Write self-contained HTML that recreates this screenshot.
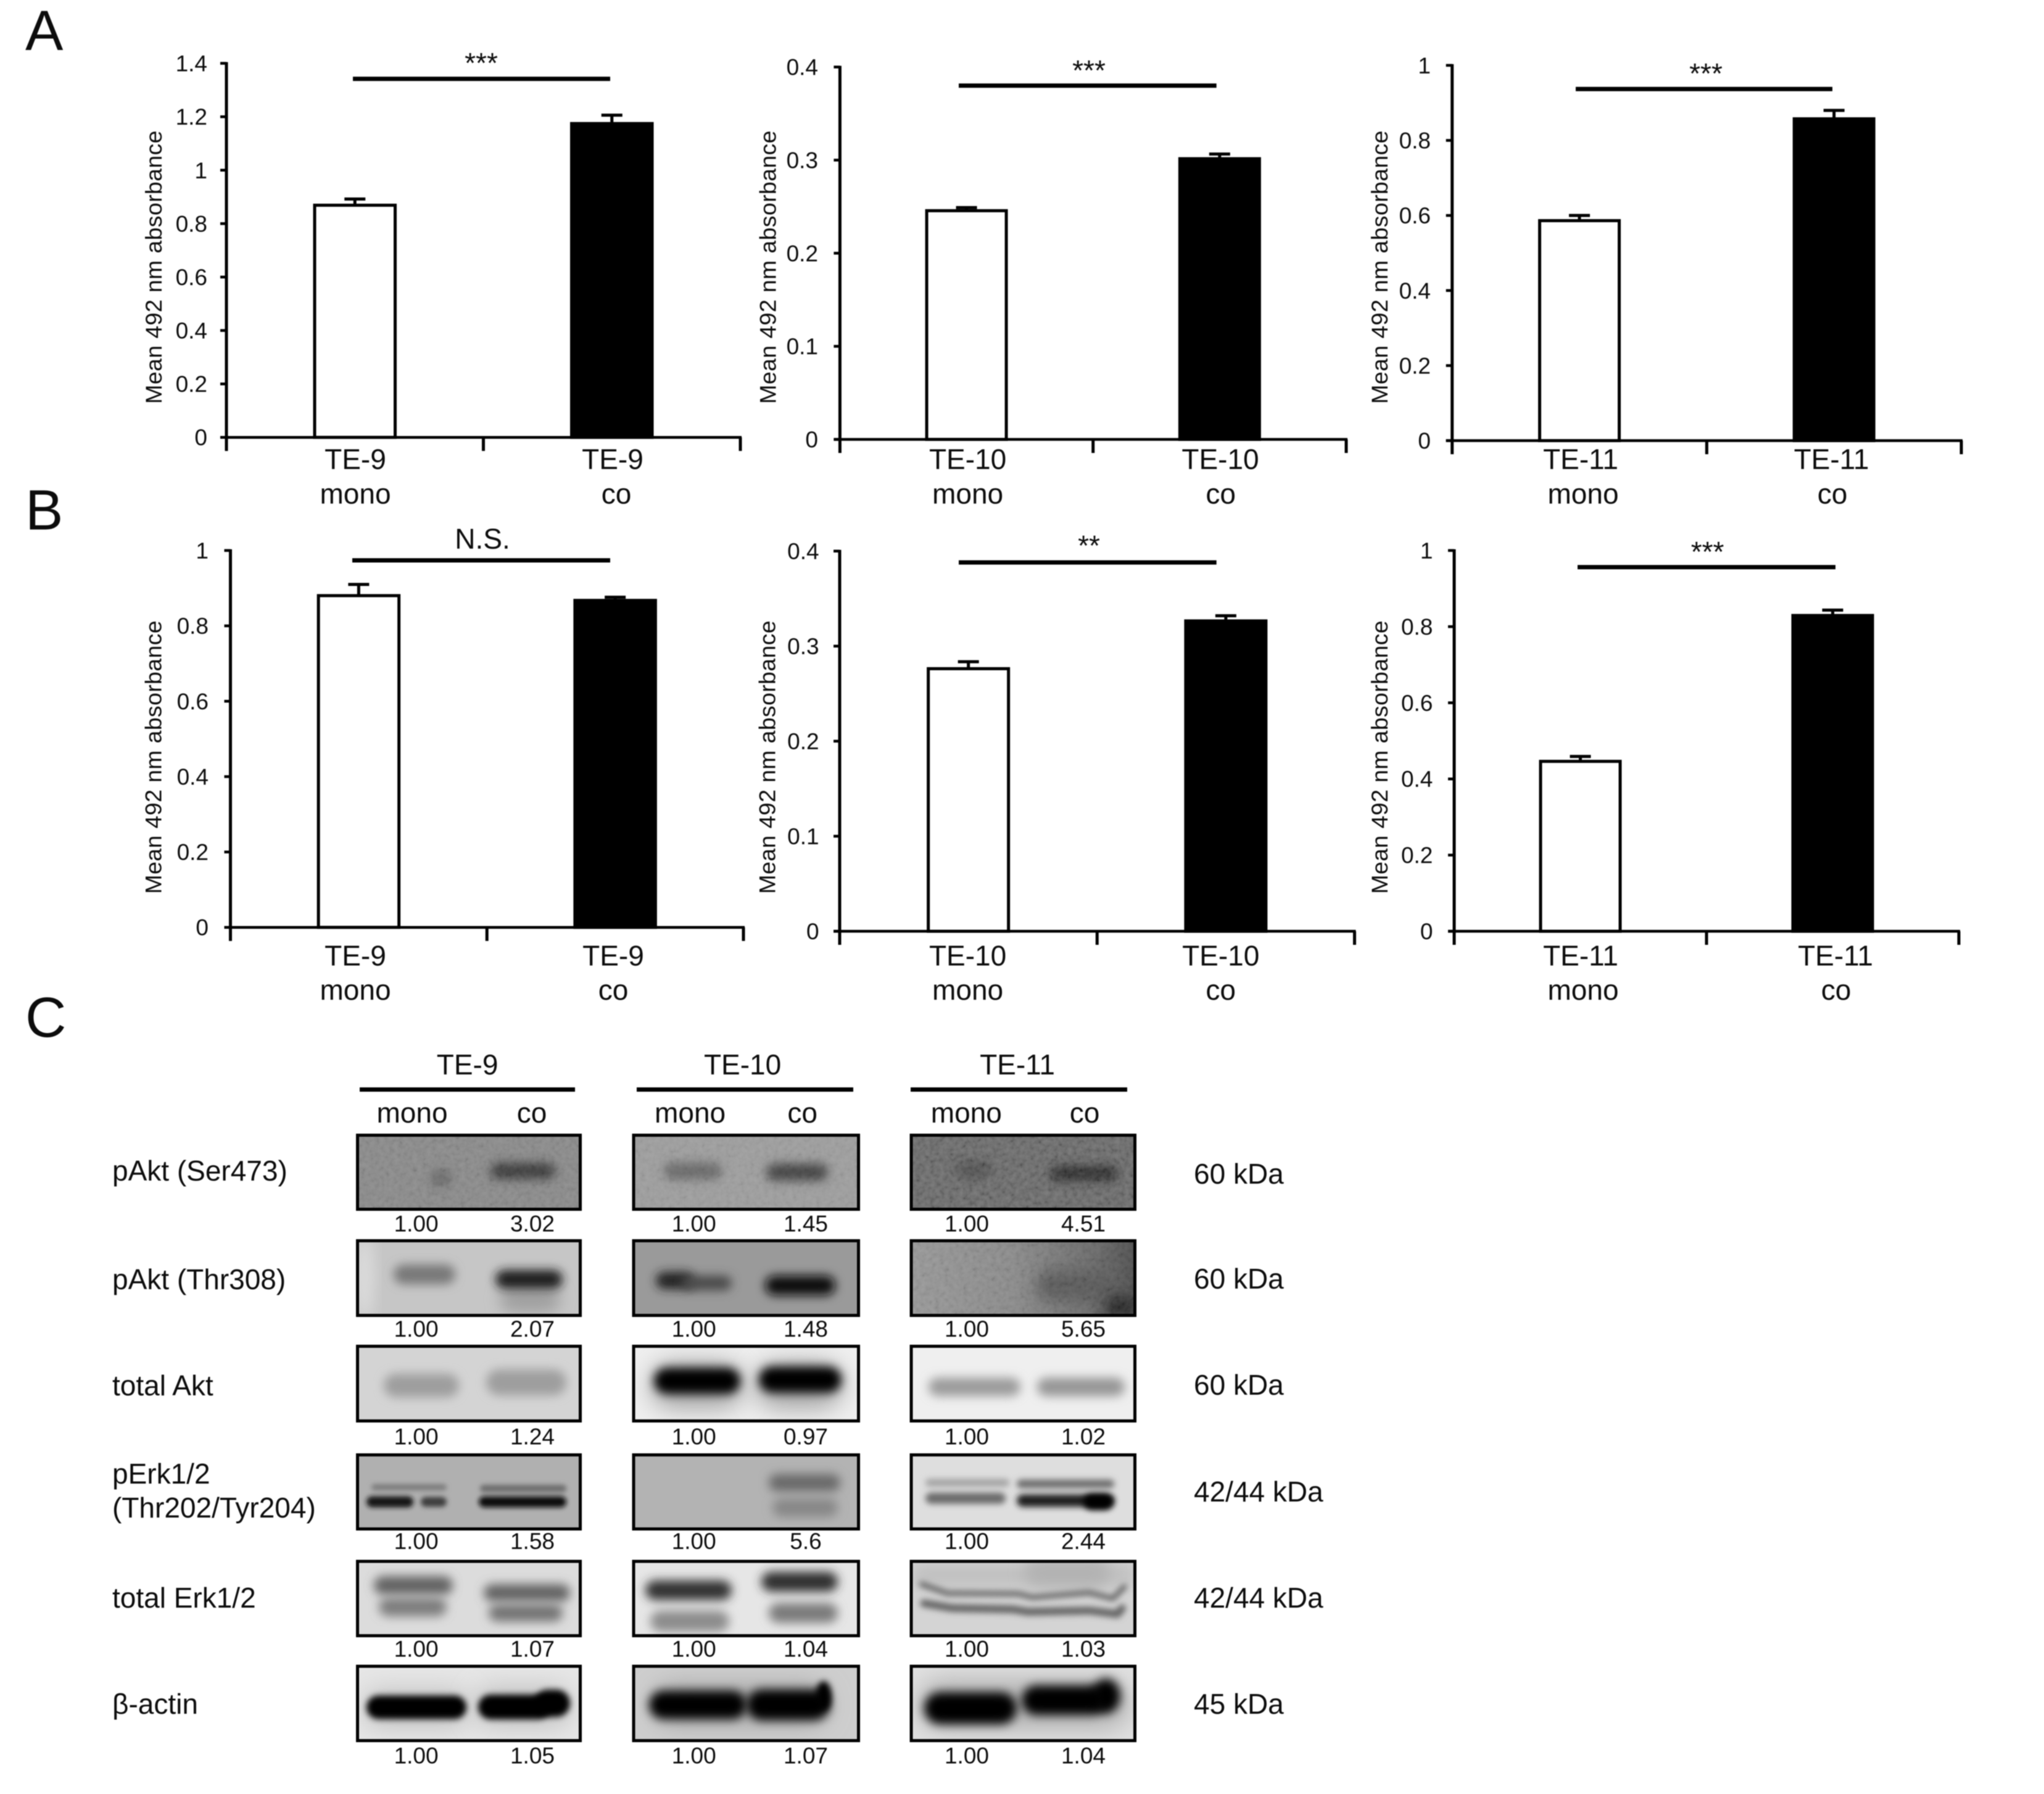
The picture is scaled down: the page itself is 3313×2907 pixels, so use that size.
<!DOCTYPE html>
<html lang="en">
<head>
<meta charset="utf-8">
<title>Absorbance bar charts and western blots</title>
<style>
html,body{margin:0;padding:0;background:#fff;width:3313px;height:2907px;overflow:hidden}
svg{display:block;filter:blur(0.7px)}
text{font-family:"Liberation Sans","Noto Sans CJK SC",sans-serif;fill:#0c0c0c}
</style>
</head>
<body>
<svg id="figure" xmlns="http://www.w3.org/2000/svg" width="3313" height="2907" viewBox="0 0 3313 2907">
  <defs>
    <filter id="blur2" x="-50%" y="-300%" width="200%" height="700%"><feGaussianBlur stdDeviation="4"/></filter>
    <filter id="blur4" x="-50%" y="-300%" width="200%" height="700%"><feGaussianBlur stdDeviation="5"/></filter>
    <filter id="blur7" x="-50%" y="-300%" width="200%" height="700%"><feGaussianBlur stdDeviation="8"/></filter>
    <filter id="blur12" x="-50%" y="-300%" width="200%" height="700%"><feGaussianBlur stdDeviation="12"/></filter>
    <filter id="blur20" x="-50%" y="-300%" width="200%" height="700%"><feGaussianBlur stdDeviation="20"/></filter>
    <filter id="noise" x="0" y="0" width="100%" height="100%">
      <feTurbulence type="fractalNoise" baseFrequency="0.13" numOctaves="2" seed="4"/>
      <feColorMatrix type="matrix" values="1.6 0 0 0 -0.3  1.6 0 0 0 -0.3  1.6 0 0 0 -0.3  0 0 0 0 1"/>
    </filter>
    <linearGradient id="grad-te11-r2" x1="0" y1="0" x2="1" y2="0">
      <stop offset="0" stop-color="#979797"/>
      <stop offset="0.45" stop-color="#8a8a8a"/>
      <stop offset="0.8" stop-color="#6a6a6a"/>
      <stop offset="1" stop-color="#4c4c4c"/>
    </linearGradient>
  </defs>

  <text x="41" y="81" font-size="92">A</text>
  <text x="41" y="858" font-size="92">B</text>
  <text x="41" y="1680" font-size="92">C</text>

  <g id="charts"></g>
  <g id="blots"></g>

  <g font-size="46" text-anchor="middle">
    <text x="757.6" y="1741">TE-9</text>
    <text x="1203.6" y="1741">TE-10</text>
    <text x="1649" y="1741">TE-11</text>
    <rect x="583" y="1762" width="349" height="7" fill="#000"/>
    <rect x="1032" y="1762" width="351" height="7" fill="#000"/>
    <rect x="1476" y="1762" width="351" height="7" fill="#000"/>
    <text x="668" y="1819">mono</text>
    <text x="862" y="1819">co</text>
    <text x="1118.6" y="1819">mono</text>
    <text x="1300.7" y="1819">co</text>
    <text x="1566.3" y="1819">mono</text>
    <text x="1758" y="1819">co</text>
  </g>

  <g font-size="46">
    <text x="182" y="1913">pAkt (Ser473)</text>
    <text x="182" y="2089">pAkt (Thr308)</text>
    <text x="182" y="2261">total Akt</text>
    <text x="182" y="2404">pErk1/2</text>
    <text x="182" y="2459">(Thr202/Tyr204)</text>
    <text x="182" y="2605">total Erk1/2</text>
    <text x="182" y="2777">β-actin</text>
  </g>

  <g font-size="46">
    <text x="1935" y="1918">60 kDa</text>
    <text x="1935" y="2088">60 kDa</text>
    <text x="1935" y="2260">60 kDa</text>
    <text x="1935" y="2433">42/44 kDa</text>
    <text x="1935" y="2605">42/44 kDa</text>
    <text x="1935" y="2777">45 kDa</text>
  </g>
</svg>

<script>
/* ---------- chart data ---------- */
const groupNames = ['mono', 'co'];
const cellLineA1 = 'TE-9';
const cellLineA2 = 'TE-10';
const cellLineA3 = 'TE-11';

const ticksA1 = ['0', '0.2', '0.4', '0.6', '0.8', '1', '1.2', '1.4'];
const valuesA1 = [0.87, 1.178];
const errorsA1 = [0.022, 0.028];
const sigA1 = '***';

const ticksA2 = ['0', '0.1', '0.2', '0.3', '0.4'];
const valuesA2 = [0.246, 0.3025];
const errorsA2 = [0.003, 0.004];
const sigA2 = '***';

const ticksA3 = ['0', '0.2', '0.4', '0.6', '0.8', '1'];
const valuesA3 = [0.587, 0.86];
const errorsA3 = [0.013, 0.02];
const sigA3 = '***';

const ticksB1 = ['0', '0.2', '0.4', '0.6', '0.8', '1'];
const valuesB1 = [0.881, 0.87];
const errorsB1 = [0.029, 0.006];
const sigB1 = 'N.S.';

const ticksB2 = ['0', '0.1', '0.2', '0.3', '0.4'];
const valuesB2 = [0.2766, 0.3275];
const errorsB2 = [0.007, 0.0045];
const sigB2 = '**';

const ticksB3 = ['0', '0.2', '0.4', '0.6', '0.8', '1'];
const valuesB3 = [0.447, 0.8317];
const errorsB3 = [0.012, 0.0117];
const sigB3 = '***';

const ratiosTE9 = [['1.00','3.02'],['1.00','2.07'],['1.00','1.24'],['1.00','1.58'],['1.00','1.07'],['1.00','1.05']];
const ratiosTE10 = [['1.00','1.45'],['1.00','1.48'],['1.00','0.97'],['1.00','5.6'],['1.00','1.04'],['1.00','1.07']];
const ratiosTE11 = [['1.00','4.51'],['1.00','5.65'],['1.00','1.02'],['1.00','2.44'],['1.00','1.03'],['1.00','1.04']];

/* ---------- layout (separate from data) ---------- */
const charts = [
  {id:'a1', line:cellLineA1, ticks:ticksA1, values:valuesA1, errors:errorsA1, sig:sigA1,
   x0:367, x1:1200, top:102.6, base:708.7, barW:135.5, tickRight:336, titleX:263, titleY:433, catDY:[760,816],
   catX:[576,993,576,999], sigLine:[572,989,127.8], sigX:780, sigY:118},
  {id:'a2', line:cellLineA2, ticks:ticksA2, values:valuesA2, errors:errorsA2, sig:sigA2,
   x0:1361.4, x1:2182, top:108.6, base:712, barW:134, tickRight:1326, titleX:1258.7, titleY:433, catDY:[760,816],
   catX:[1568.6,1978,1568.6,1978.7], sigLine:[1554,1971.7,138.8], sigX:1765, sigY:130},
  {id:'a3', line:cellLineA3, ticks:ticksA3, values:valuesA3, errors:errorsA3, sig:sigA3,
   x0:2353.7, x1:3179, top:105.9, base:714, barW:134, tickRight:2319, titleX:2250, titleY:433, catDY:[760,816],
   catX:[2562,2968.5,2566,2970], sigLine:[2554,2970,144.3], sigX:2765, sigY:135},
  {id:'b1', line:cellLineA1, ticks:ticksB1, values:valuesB1, errors:errorsB1, sig:sigB1,
   x0:373.5, x1:1205, top:892, base:1502.7, barW:135.5, tickRight:338, titleX:262.5, titleY:1227, catDY:[1564.7,1620],
   catX:[576,994,576,994], sigLine:[571,989,908], sigX:782, sigY:889},
  {id:'b2', line:cellLineA2, ticks:ticksB2, values:valuesB2, errors:errorsB2, sig:sigB2,
   x0:1361, x1:2195.5, top:893, base:1509, barW:135, tickRight:1327.6, titleX:1257.4, titleY:1227, catDY:[1564.7,1620],
   catX:[1568.6,1978.7,1568.6,1978.7], sigLine:[1554,1971.7,911.4], sigX:1765, sigY:900},
  {id:'b3', line:cellLineA3, ticks:ticksB3, values:valuesB3, errors:errorsB3, sig:sigB3,
   x0:2357, x1:3175, top:892, base:1509, barW:134, tickRight:2322.4, titleX:2250, titleY:1227, catDY:[1564.7,1620],
   catX:[2562,2975,2566,2976], sigLine:[2557,2975,919], sigX:2767.6, sigY:910}
];

const NS = 'http://www.w3.org/2000/svg';
function mk(tag, attrs, parent) {
  const el = document.createElementNS(NS, tag);
  for (const k in attrs) el.setAttribute(k, attrs[k]);
  parent.appendChild(el);
  return el;
}

const chartRoot = document.getElementById('charts');
charts.forEach(function (c) {
  const g = mk('g', {}, chartRoot);
  
  

  const yMax = Number(c.ticks[c.ticks.length - 1]);
  const yScale = function (v) { return c.base - (v / yMax) * (c.base - c.top); };
  const bandW = (c.x1 - c.x0) / groupNames.length;
  const xCenter = function (i) { return c.x0 + bandW * (i + 0.5); };

  /* bars and error bars */
  c.values.forEach(function (v, i) {
    const cx = xCenter(i);
    const yTop = yScale(v);
    const yErr = yScale(v + c.errors[i]);
    const errStem = mk('line', {x1:cx, x2:cx, y1:yTop, y2:yErr, stroke:'#000', 'stroke-width':5}, g);
    
    
    const errCap = mk('line', {x1:cx - 17, x2:cx + 17, y1:yErr, y2:yErr, stroke:'#000', 'stroke-width':5}, g);
    
    
    const barTop = i === 0 ? yTop + 0.5 : yTop + 1.5;
    const bar = mk('rect', {
      x: cx - c.barW / 2 + 2.5, y: barTop, width: c.barW - 5, height: c.base - barTop,
      fill: i === 0 ? '#fff' : '#000', stroke: '#000', 'stroke-width': 5
    }, g);
    
    
  });

  /* y axis */
  const yAxis = mk('line', {x1:c.x0, x2:c.x0, y1:c.top - 2, y2:c.base + 22, stroke:'#000', 'stroke-width':5}, g);
  
  
  c.ticks.forEach(function (label) {
    const y = yScale(Number(label));
    const tick = mk('line', {x1:c.x0 - 10, x2:c.x0, y1:y, y2:y, stroke:'#000', 'stroke-width':4.5}, g);
    
    
    const t = mk('text', {x:c.tickRight, y:y + 13, 'font-size':37, 'text-anchor':'end'}, g);
    t.textContent = label;
    
    
  });

  /* x axis */
  const xAxis = mk('line', {x1:c.x0 - 10, x2:c.x1 + 2, y1:c.base, y2:c.base, stroke:'#000', 'stroke-width':4.5}, g);
  
  
  for (let i = 1; i <= groupNames.length; i++) {
    const tx = c.x0 + bandW * i;
    const xt = mk('line', {x1:tx, x2:tx, y1:c.base, y2:c.base + 22, stroke:'#000', 'stroke-width':5}, g);
    
    
  }

  /* category labels */
  groupNames.forEach(function (name, i) {
    const l1 = mk('text', {x:c.catX[i], y:c.catDY[0], 'font-size':46, 'text-anchor':'middle'}, g);
    l1.textContent = c.line;
    
    
    const l2 = mk('text', {x:c.catX[i + 2], y:c.catDY[1], 'font-size':46, 'text-anchor':'middle'}, g);
    l2.textContent = name;
    
    
  });

  /* y title */
  const title = mk('text', {
    x:0, y:0, 'font-size':37.5, 'text-anchor':'middle', textLength:443, lengthAdjust:'spacing',
    transform:'translate(' + (c.titleX - 1) + ',' + c.titleY + ') rotate(-90)'
  }, g);
  title.textContent = 'Mean 492 nm absorbance';
  
  

  /* significance */
  const sl = mk('line', {x1:c.sigLine[0], x2:c.sigLine[1], y1:c.sigLine[2], y2:c.sigLine[2], stroke:'#000', 'stroke-width':7}, g);
  
  
  const st = mk('text', {x:c.sigX, y:c.sigY, 'font-size':46, 'text-anchor':'middle'}, g);
  st.textContent = c.sig;
  
  
});

/* ---------- western blots ---------- */
const blotCols = [[577, 943], [1024.5, 1394], [1474.5, 1842]];
const blotRows = [[1837, 1962], [2008, 2134], [2179, 2305], [2355, 2480], [2527.5, 2653], [2697.5, 2823]];
const rowNames = ['pakt-ser473', 'pakt-thr308', 'total-akt', 'perk', 'total-erk', 'beta-actin'];
const colNames = ['te-9', 'te-10', 'te-11'];
const ratioBaselines = [1995.5, 2166, 2340.6, 2510, 2684.4, 2857.5];
const ratioCenters = [[674.6, 863], [1124.7, 1306], [1567, 1756]];
const ratioTables = [ratiosTE9, ratiosTE10, ratiosTE11];

/* each band: x0, x1, centre y, half height, gray level, blur id */
const blotArt = [
  [ /* TE-9 */
    {bg:'#8a8a8a', noise:.08, bands:[[795,900,1897.5,13,55,'blur7'],[698,732,1909,14,104,'blur7']]},
    {bg:'#c6c6c6', bands:[[577,605,2070,70,222,'blur12'],[638,738,2065,16,120,'blur7'],[810,908,2105,22,160,'blur12'],[803,912,2073,15,30,'blur7']]},
    {bg:'#d4d4d4', bands:[[622,744,2245,19,158,'blur7'],[788,918,2240,21,158,'blur7']]},
    {bg:'#b0b0b0', bands:[[602,724,2410,5,122,'blur2'],[778,918,2412,6,108,'blur2'],[594,670,2433.6,9,24,'blur2'],[682,724,2433.6,8,62,'blur2'],[776,918,2433.6,9,14,'blur2']]},
    {bg:'#dcdcdc', bands:[[606,734,2569,15,100,'blur7'],[614,724,2604,15,125,'blur7'],[784,924,2581,14,100,'blur7'],[792,912,2613.6,14,115,'blur7']]},
    {bg:'#e6e6e6', bands:[[590,760,2768,28,190,'blur20'],[770,925,2765,30,190,'blur20'],[594,756,2766.5,19,0,'blur4'],[775,892,2766,20,0,'blur4'],[866,924,2760,22,0,'blur4']]}
  ],
  [ /* TE-10 */
    {bg:'#9e9e9e', noise:.06, bands:[[1076,1170,1897.5,14,105,'blur7'],[1242,1342,1899.5,14,66,'blur7']]},
    {bg:'#9a9a9a', bands:[[1063,1125,2075,14,36,'blur7'],[1105,1186,2079,12,72,'blur7'],[1240,1354,2083,16,8,'blur7']]},
    {bg:'#efefef', bands:[[1055,1205,2245,36,160,'blur20'],[1225,1365,2245,36,160,'blur20'],[1060,1200,2237.5,21,0,'blur7'],[1230,1364,2235.5,21,0,'blur7']]},
    {bg:'#b3b3b3', bands:[[1246,1362,2402.6,14,105,'blur7'],[1252,1358,2443,15,135,'blur7']]},
    {bg:'#e6e6e6', bands:[[1046,1186,2576.8,16,50,'blur7'],[1054,1182,2627,17,140,'blur7'],[1234,1358,2563,16,45,'blur7'],[1246,1358,2613.6,16,122,'blur7']]},
    {bg:'#cecece', bands:[[1060,1340,2762,30,160,'blur20'],[1052,1210,2762.6,23,0,'blur7'],[1210,1345,2762.6,25,0,'blur7'],[1322,1348,2748,24,0,'blur4']]}
  ],
  [ /* TE-11 */
    {bg:'#666666', noise:.14, bands:[[1549,1607,1895.5,14,72,'blur7'],[1702,1812,1901.4,12,36,'blur7']]},
    {bg:'url(#grad-te11-r2)', noise:.08, bands:[[1680,1810,2083,24,88,'blur12'],[1790,1842,2118,18,32,'blur12']]},
    {bg:'#efefef', bands:[[1505,1654,2247.4,15,155,'blur7'],[1681,1823,2247.4,15,150,'blur7']]},
    {bg:'#dedede', bands:[[1500,1636,2402.6,6,160,'blur4'],[1500,1630,2427.8,9,105,'blur4'],[1648,1806,2404.5,7,108,'blur4'],[1648,1806,2431.6,10,26,'blur4'],[1756,1804,2433.6,13,0,'blur4']]},
    {bg:'#d4d4d4', bands:[[1476,1842,2552,18,192,'blur12'],[1660,1800,2548,22,178,'blur12']],
     lines:[[[1493.6,2567],[1535.7,2581.8],[1650.5,2582.6],[1673.5,2588.4],[1765.3,2580.7],[1803.6,2590.4],[1822.7,2571]],
            [[1497.4,2598],[1543.4,2605.8],[1642.8,2607.8],[1665.8,2611.7],[1765.3,2609.7],[1811.2,2615.5],[1818.9,2605.8]]]},
    {bg:'#e0e0e0', bands:[[1490,1830,2762,38,175,'blur20'],[1498,1648,2768,26,0,'blur7'],[1656,1794,2755,24,0,'blur7'],[1770,1816,2748,28,0,'blur7']]}
  ]
];

const blotRoot = document.getElementById('blots');
const defs = document.querySelector('#figure defs');
blotCols.forEach(function (col, ci) {
  blotRows.forEach(function (row, ri) {
    const art = blotArt[ci][ri];
    const g = mk('g', {}, blotRoot);
    
    

    const clipId = 'clip-' + ci + '-' + ri;
    const clip = mk('clipPath', {id:clipId}, defs);
    mk('rect', {x:col[0], y:row[0], width:col[1] - col[0], height:row[1] - row[0]}, clip);

    const inner = mk('g', {'clip-path':'url(#' + clipId + ')'}, g);
    const bg = mk('rect', {x:col[0], y:row[0], width:col[1] - col[0], height:row[1] - row[0], fill:art.bg}, inner);
    
    

    art.bands.forEach(function (b) {
      const gray = 'rgb(' + b[4] + ',' + b[4] + ',' + b[4] + ')';
      const band = mk('rect', {
        x:b[0], y:b[2] - b[3], width:b[1] - b[0], height:b[3] * 2, rx:b[3], ry:b[3],
        fill:gray, filter:'url(#' + b[5] + ')'
      }, inner);
      
      
    });

    (art.lines || []).forEach(function (pts, li) {
      const line = mk('polyline', {
        points:pts.map(function (p) { return p.join(','); }).join(' '),
        fill:'none', stroke:'#5e5e5e', 'stroke-width':li === 0 ? 8 : 12,
        'stroke-linejoin':'round', 'stroke-linecap':'round', filter:'url(#blur4)'
      }, inner);
      
      
    });

    if (art.noise) {
      const n = mk('rect', {x:col[0], y:row[0], width:col[1] - col[0], height:row[1] - row[0], filter:'url(#noise)', opacity:art.noise}, inner);
      
      
    }

    const frame = mk('rect', {x:col[0] + 2.5, y:row[0] + 2.5, width:col[1] - col[0] - 5, height:row[1] - row[0] - 5, fill:'none', stroke:'#000', 'stroke-width':5}, g);
    
    

    ratioTables[ci][ri].forEach(function (txt, k) {
      const t = mk('text', {x:ratioCenters[ci][k], y:ratioBaselines[ri], 'font-size':37, 'text-anchor':'middle'}, g);
      t.textContent = txt;
      
      
    });
  });
});
</script>
</body>
</html>
